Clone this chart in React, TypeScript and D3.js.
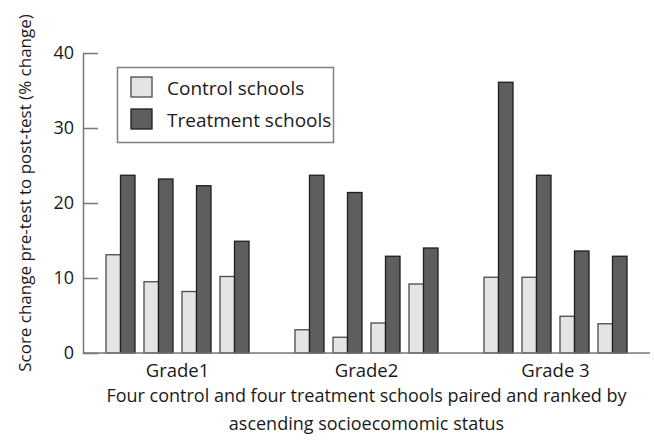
import { useRef, useEffect } from "react";
import * as d3 from "d3";

// values (% change, pre-test to post-test)
const grades = ["Grade1", "Grade2", "Grade 3"];
const pairs = [0, 1, 2, 3];
const controlSchools = [
  [13.1, 9.5, 8.2, 10.2],
  [3.1, 2.1, 4.0, 9.2],
  [10.1, 10.1, 4.9, 3.9],
];
const treatmentSchools = [
  [23.7, 23.2, 22.3, 14.9],
  [23.7, 21.4, 12.9, 14.0],
  [36.1, 23.7, 13.6, 12.9],
];
const yTicks = [0, 10, 20, 30, 40];
const seriesNames = ["Control schools", "Treatment schools"];

const width = 654;
const height = 447;
const FONT = "'Open Sans', Lato, sans-serif";

export default function App() {
  const svgRef = useRef<SVGSVGElement | null>(null);

  useEffect(() => {
    if (!svgRef.current) return;
    const svg = d3.select(svgRef.current);
    svg.selectAll("*").remove();

    const margin = { top: 53, right: 4, bottom: 94, left: 83 };
    const x0 = d3
      .scaleBand()
      .domain(grades)
      .range([margin.left, width - margin.right]);
    const x1 = d3
      .scaleBand<number>()
      .domain(pairs)
      .range([0, x0.bandwidth()])
      .paddingInner(0.237)
      .paddingOuter(0.605);
    const xs = d3
      .scaleBand()
      .domain(["control", "treatment"])
      .range([0, x1.bandwidth()]);
    const y = d3
      .scaleLinear()
      .domain([0, 40])
      .range([height - margin.bottom, margin.top]);

    svg
      .append("rect")
      .attr("width", width)
      .attr("height", height)
      .attr("fill", "#fff");

    // bars
    const rows = grades.flatMap((g, gi) =>
      pairs.flatMap((p) => [
        { g, p, kind: "control", v: controlSchools[gi][p] },
        { g, p, kind: "treatment", v: treatmentSchools[gi][p] },
      ])
    );
    svg
      .append("g")
      .selectAll("rect")
      .data(rows)
      .join("rect")
      .attr("x", (d) => x0(d.g)! + x1(d.p)! + xs(d.kind)!)
      .attr("y", (d) => y(d.v))
      .attr("width", xs.bandwidth())
      .attr("height", (d) => y(0) - y(d.v))
      .attr("fill", (d) => (d.kind === "control" ? "#e4e4e4" : "#5e5e5e"))
      .attr("stroke", (d) => (d.kind === "control" ? "#4a4a4a" : "#1e1e1e"))
      .attr("stroke-width", 1.3);

    // y axis, ticks pointing inward
    const yAxis = svg
      .append("g")
      .attr("transform", `translate(${margin.left},0)`)
      .call(
        d3
          .axisLeft(y)
          .tickValues(yTicks)
          .tickSizeInner(-15)
          .tickSizeOuter(0)
          .tickPadding(9)
      );
    yAxis.select(".domain").attr("stroke", "#777").attr("stroke-width", 1.5);
    yAxis.selectAll(".tick line").attr("stroke", "#777").attr("stroke-width", 1.5);
    yAxis
      .selectAll(".tick text")
      .attr("font-family", FONT)
      .attr("font-size", 18)
      .attr("fill", "#1a1a1a");

    // x axis baseline
    svg
      .append("line")
      .attr("x1", margin.left)
      .attr("x2", width - margin.right)
      .attr("y1", y(0))
      .attr("y2", y(0))
      .attr("stroke", "#777")
      .attr("stroke-width", 1.5);

    // grade labels
    svg
      .append("g")
      .selectAll("text")
      .data(grades)
      .join("text")
      .attr("x", (d) => x0(d)! + x0.bandwidth() / 2)
      .attr("y", y(0) + 24)
      .attr("text-anchor", "middle")
      .attr("font-family", FONT)
      .attr("font-size", 18.5)
      .attr("fill", "#1a1a1a")
      .text((d) => d);

    // x title
    const cx = (margin.left + width - margin.right) / 2;
    svg
      .append("text")
      .attr("x", cx)
      .attr("y", 402)
      .attr("text-anchor", "middle")
      .attr("font-family", FONT)
      .attr("font-size", 18)
      .attr("fill", "#1a1a1a")
      .text("Four control and four treatment schools paired and ranked by");
    svg
      .append("text")
      .attr("x", cx)
      .attr("y", 430)
      .attr("text-anchor", "middle")
      .attr("font-family", FONT)
      .attr("font-size", 18)
      .attr("fill", "#1a1a1a")
      .text("ascending socioecomomic status");

    // y title
    svg
      .append("text")
      .attr("transform", `translate(31,${(y(0) + y(40)) / 2 - 10}) rotate(-90)`)
      .attr("text-anchor", "middle")
      .attr("font-family", FONT)
      .attr("font-size", 17)
      .attr("fill", "#1a1a1a")
      .text("Score change pre-test to post-test (% change)");

    // legend
    const lg = svg.append("g");
    lg.append("rect")
      .attr("x", 117.5)
      .attr("y", 67.5)
      .attr("width", 216)
      .attr("height", 75)
      .attr("fill", "#fff")
      .attr("stroke", "#808080")
      .attr("stroke-width", 1.5);
    const item = lg
      .selectAll("g")
      .data(seriesNames)
      .join("g")
      .attr("transform", (d, i) => `translate(131,${77 + i * 32})`);
    item
      .append("rect")
      .attr("width", 21)
      .attr("height", 20)
      .attr("fill", (d, i) => (i === 0 ? "#e4e4e4" : "#5e5e5e"))
      .attr("stroke", (d, i) => (i === 0 ? "#4a4a4a" : "#1e1e1e"))
      .attr("stroke-width", 1.3);
    item
      .append("text")
      .attr("x", 36)
      .attr("y", 17.5)
      .attr("font-family", FONT)
      .attr("font-size", 19)
      .attr("fill", "#1a1a1a")
      .text((d) => d);
  }, []);

  return (
    <div style={{ position: "absolute", left: 0, top: 0 }}>
      <svg ref={svgRef} width={width} height={height} style={{ display: "block" }}></svg>
    </div>
  );
}
